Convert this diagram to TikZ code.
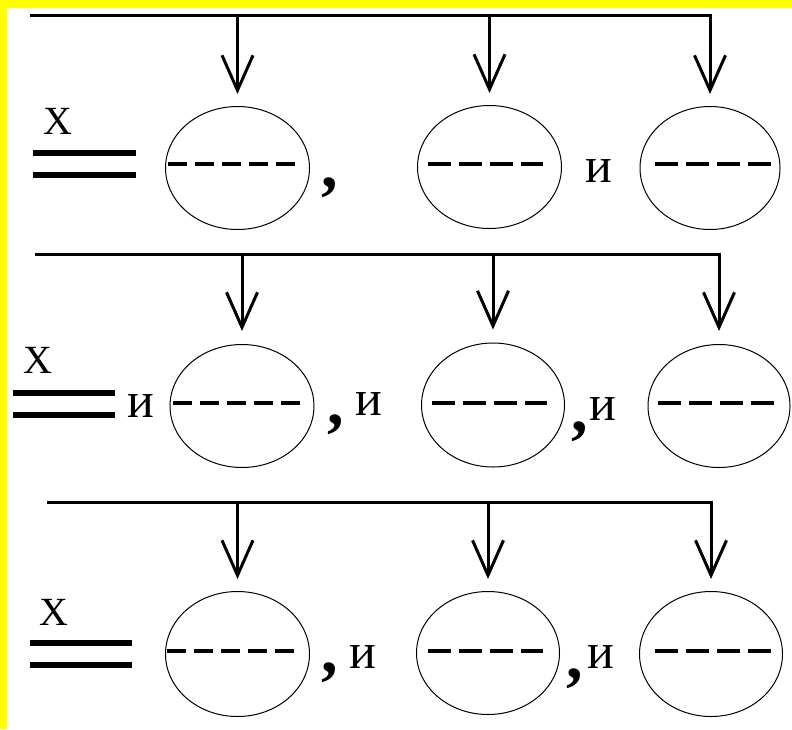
\documentclass[tikz,border=0pt]{standalone}
\usepackage{fontspec}
\setmainfont{Liberation Serif}
\usetikzlibrary{shapes.geometric,arrows.meta,calc}
\definecolor{frameyellow}{HTML}{FFFF00}
\begin{document}
\begin{tikzpicture}[x=1pt,y=-1pt,
  oval/.style={draw,ellipse,line width=1pt,inner sep=0pt,minimum width=144pt,minimum height=123pt},
  conn/.style={line width=3pt,-{Straight Barb[length=35pt,width=31pt]},shorten >=12pt},
  dashA/.style={line width=3.6pt,dash pattern=on 19pt off 8pt},
  dashB/.style={line width=3.6pt,dash pattern=on 23pt off 8pt},
  dbl/.style={line width=5.5pt},
  lbl/.style={inner sep=0pt,font=\fontsize{40}{42}\selectfont},
  conj/.style={inner sep=0pt,font=\fontsize{50}{52}\selectfont},
  commamark/.style={inner sep=0pt,font=\fontsize{66}{66}\selectfont\bfseries}]
\useasboundingbox (0,0) rectangle (792,729);
\fill[white] (0,0) rectangle (792,729);
\fill[frameyellow] (0,0) rectangle (792,8);
\fill[frameyellow] (0,0) rectangle (7,729);

% ---------- Row 1 ----------
\coordinate (s1) at (30,15);
\node[oval] (e11) at (237.5,168) {};
\node[oval] (e12) at (489.5,167) {};
\node[oval,minimum width=140pt] (e13) at (710,168) {};
\draw[conn] (s1) -| (e13.north);
\draw[conn] (e11.north |- s1) -- (e11.north);
\draw[conn] (e12.north |- s1) -- (e12.north);
\draw[dashA] (168,164) -- (298,164);
\draw[dashB] (428,164) -- (543,164);
\draw[dashB] (655,164) -- (773,164);
\draw[dbl] (33,153) -- (136,153);
\draw[dbl] (33,175) -- (136,175);
\node[lbl] (x1) at (57.5,121) {X};
\node[commamark] (c11) at (330,188) {,};
\node[conj] (i11) at (599,171) {и};

% ---------- Row 2 ----------
\coordinate (s2) at (35,254);
\node[oval] (e21) at (242,406) {};
\node[oval,minimum width=143pt,minimum height=124pt] (e22) at (493,405) {};
\node[oval,minimum width=142pt] (e23) at (719,406) {};
\draw[conn,shorten >=13pt] (s2) -| (e23.north);
\draw[conn,shorten >=13pt] (e21.north |- s2) -- (e21.north);
\draw[conn,shorten >=13pt] (e22.north |- s2) -- (e22.north);
\draw[dashA] (173,403) -- (302,403);
\draw[dashB] (432,403) -- (547,403);
\draw[dashB] (658,403) -- (778,403);
\draw[dbl] (13,393) -- (115,393);
\draw[dbl] (13,415) -- (115,415);
\node[lbl] (x2) at (38,360) {X};
\node[conj] (i21) at (141,406) {и};
\node[commamark] (c21) at (336,425) {,};
\node[conj] (i22) at (369,404) {и};
\node[commamark] (c22) at (580,432) {,};
\node[conj] (i23) at (603,409) {и};

% ---------- Row 3 ----------
\coordinate (s3) at (47,502);
\node[oval,minimum height=125pt] (e31) at (237.5,654) {};
\node[oval,minimum width=143pt] (e32) at (488,653) {};
\node[oval,minimum width=143pt,minimum height=125pt] (e33) at (711,654) {};
\draw[conn] (s3) -| (e33.north);
\draw[conn] (e31.north |- s3) -- (e31.north);
\draw[conn] (e32.north |- s3) -- (e32.north);
\draw[dashA] (167,651) -- (297,651);
\draw[dashB] (428,651) -- (543,651);
\draw[dashB] (655,651) -- (775,651);
\draw[dbl] (30,643) -- (132,643);
\draw[dbl] (30,665) -- (132,665);
\node[lbl] (x3) at (54,612) {X};
\node[commamark] (c31) at (330,673) {,};
\node[conj] (i31) at (363,657) {и};
\node[commamark] (c32) at (575,679) {,};
\node[conj] (i32) at (601,657) {и};
\end{tikzpicture}
\end{document}
